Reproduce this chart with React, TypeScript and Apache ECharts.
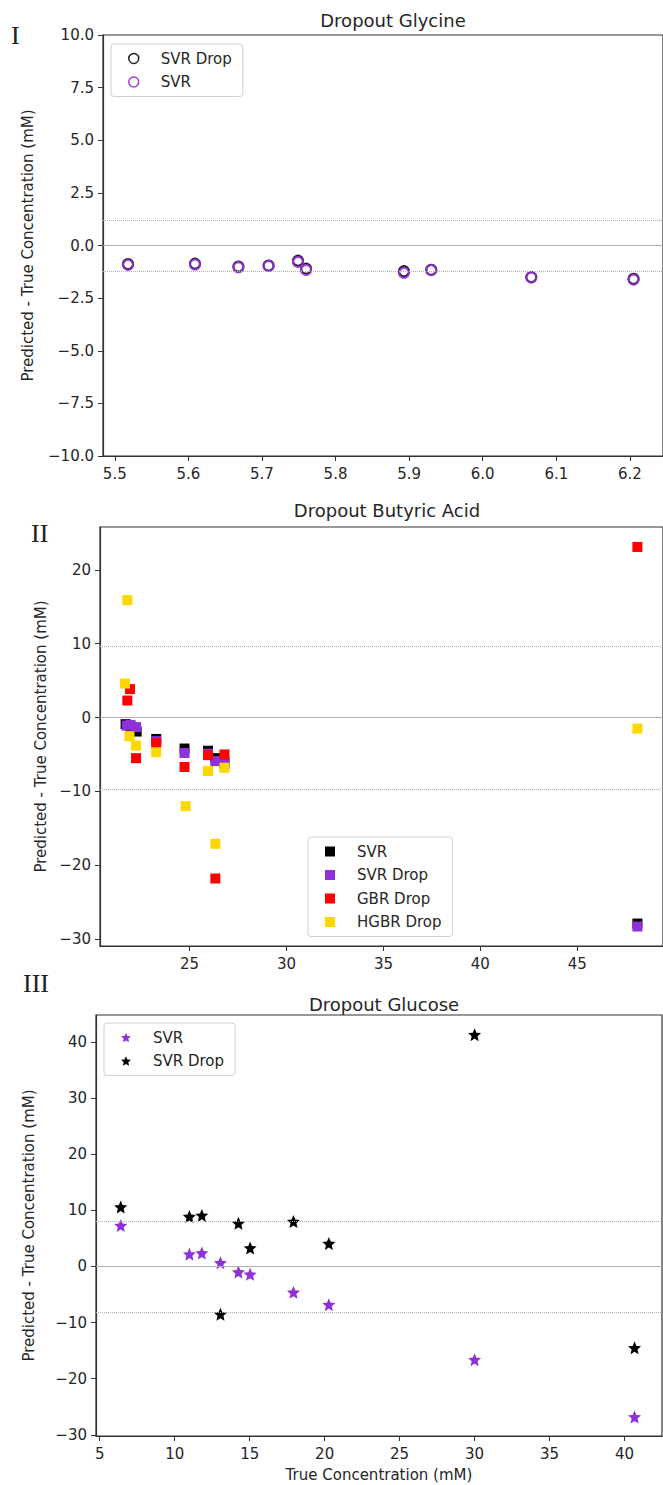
import React, { useEffect, useRef } from "react";
import * as echarts from "echarts";

// ---------- Panel I : Dropout Glycine ----------
const glyX = [5.518, 5.609, 5.668, 5.709, 5.749, 5.760, 5.893, 5.930, 6.066, 6.205];
const glySvrDrop = [-0.88, -0.86, -1.0, -0.95, -0.72, -1.1, -1.22, -1.15, -1.5, -1.58];
const glySvr = [-0.92, -0.9, -1.03, -0.97, -0.78, -1.16, -1.3, -1.17, -1.52, -1.62];
const glyXTicks = [5.5, 5.6, 5.7, 5.8, 5.9, 6.0, 6.1, 6.2];
const glyYTicks = [-10, -7.5, -5, -2.5, 0, 2.5, 5, 7.5, 10];
const glyLoa = [-1.2, 1.2];

// ---------- Panel II : Dropout Butyric Acid ----------
const butSvrX = [21.70, 21.95, 22.27, 23.28, 24.74, 25.95, 26.33, 26.8, 48.1];
const butSvrY = [-0.9, -1.2, -1.9, -2.9, -4.2, -4.5, -5.5, -6.1, -27.9];
const butSvrDropX = [21.76, 21.95, 22.24, 23.28, 24.74, 25.95, 26.33, 26.8, 48.1];
const butSvrDropY = [-1.1, -1.0, -1.3, -3.2, -4.8, -4.9, -5.9, -6.3, -28.3];
const butGbrX = [21.79, 21.93, 22.24, 23.28, 24.74, 25.95, 26.33, 26.8, 48.1];
const butGbrY = [2.3, 3.85, -5.5, -3.45, -6.7, -5.1, -21.8, -5.0, 23.1];
const butHgbrX = [21.67, 21.79, 21.9, 22.24, 23.28, 24.8, 25.95, 26.33, 26.8, 48.1];
const butHgbrY = [4.6, 15.9, -2.55, -3.8, -4.7, -12.0, -7.25, -17.1, -6.8, -1.5];
const butXTicks = [25, 30, 35, 40, 45];
const butYTicks = [-30, -20, -10, 0, 10, 20];
const butLoa = [-9.7, 9.7];

// ---------- Panel III : Dropout Glucose ----------
const glucX = [6.4, 10.98, 11.81, 13.05, 14.25, 15.03, 17.92, 20.28, 30.0, 40.67];
const glucSvr = [7.3, 2.2, 2.4, 0.65, -1.0, -1.4, -4.6, -6.8, -16.6, -26.8];
const glucSvrDrop = [10.6, 8.9, 9.1, -8.5, 7.7, 3.3, 8.0, 4.1, 41.3, -14.5];
const glucXTicks = [5, 10, 15, 20, 25, 30, 35, 40];
const glucYTicks = [-30, -20, -10, 0, 10, 20, 30, 40];
const glucLoa = [-8.1, 8.1];

const PURPLE = "#9030d8";
const FONT = "DejaVu Sans";
const TXT = "#262626";
const STAR =
  "path://M12,1 L15.1,8.3 L23,9 L17,14.2 L18.8,22 L12,17.9 L5.2,22 L7,14.2 L1,9 L8.9,8.3 Z";

const zip = (xs: number[], ys: number[]) => xs.map((x, i) => [x, ys[i]]);
const minus = (s: string) => s.replace("-", "\u2212");

function refLines(loa: number[]) {
  return {
    silent: true,
    symbol: "none",
    label: { show: false },
    data: [
      { yAxis: 0, lineStyle: { type: "solid", color: "#b0b0b0", width: 1 } },
      { yAxis: loa[0], lineStyle: { type: "dotted", color: "#b0b0b0", width: 1 } },
      { yAxis: loa[1], lineStyle: { type: "dotted", color: "#b0b0b0", width: 1 } },
    ],
  };
}

function xAxisCfg(idx: number, min: number, max: number, ticks: number[], fmt: (v: number) => string, name = "") {
  return {
    type: "value",
    gridIndex: idx,
    min,
    max,
    name,
    nameLocation: "middle",
    nameGap: 31,
    nameTextStyle: { fontFamily: FONT, fontSize: 15, color: TXT },
    axisLine: { show: true, onZero: false, lineStyle: { color: "#333", width: 1.2 } },
    axisTick: { show: true, inside: false, length: 5, customValues: ticks, lineStyle: { color: "#333" } },
    axisLabel: { customValues: ticks, formatter: (v: number) => minus(fmt(v)), fontFamily: FONT, fontSize: 15, color: TXT, margin: 10 },
    splitLine: { show: false },
  };
}

function yAxisCfg(idx: number, min: number, max: number, ticks: number[], fmt: (v: number) => string, nameGap: number) {
  return {
    type: "value",
    gridIndex: idx,
    min,
    max,
    name: "Predicted - True Concentration (mM)",
    nameLocation: "middle",
    nameGap,
    nameTextStyle: { fontFamily: FONT, fontSize: 15, color: TXT },
    axisLine: { show: true, onZero: false, lineStyle: { color: "#333", width: 1.2 } },
    axisTick: { show: true, inside: false, length: 5, customValues: ticks, lineStyle: { color: "#333" } },
    axisLabel: { customValues: ticks, formatter: (v: number) => minus(fmt(v)), fontFamily: FONT, fontSize: 15, color: TXT, margin: 9 },
    splitLine: { show: false },
  };
}

function legendCfg(left: number, top: number, names: string[], items: any[]) {
  return {
    left,
    top,
    orient: "vertical",
    data: names.map((n, i) => ({ name: n, ...items[i] })),
    formatter: (n: string) => n.slice(2),
    itemWidth: 10,
    itemHeight: 10,
    itemGap: 8.5,
    padding: [7, 11, 7, 17],
    borderColor: "#d0d0d0",
    borderWidth: 1,
    borderRadius: 3,
    textStyle: { fontFamily: FONT, fontSize: 15, color: TXT, padding: [0, 0, 0, 17] },
    selectedMode: false,
  };
}

const titleStyle = { fontFamily: FONT, fontSize: 18, fontWeight: "normal", color: TXT };

export default function App() {
  const ref = useRef<HTMLDivElement>(null);
  useEffect(() => {
    document.body.style.margin = "0";
    const chart = echarts.init(ref.current!, undefined, { renderer: "svg" });
    const option: any = {
      animation: false,
      backgroundColor: "#fff",
      title: [
        { text: "Dropout Glycine", left: 388, top: 6, textAlign: "center", textStyle: titleStyle },
        { text: "Dropout Butyric Acid", left: 382, top: 496, textAlign: "center", textStyle: titleStyle },
        { text: "Dropout Glucose", left: 379, top: 990, textAlign: "center", textStyle: titleStyle },
      ],
      graphic: [
        { type: "text", left: 11, top: 22, style: { text: "I", font: "26px 'Liberation Serif'", fill: "#222" } },
        { type: "text", left: 31, top: 520, style: { text: "II", font: "26px 'Liberation Serif'", fill: "#222" } },
        { type: "text", left: 23, top: 970, style: { text: "III", font: "26px 'Liberation Serif'", fill: "#222" } },
      ],
      grid: [
        { left: 103, right: -11, top: 35, height: 421, show: true, borderColor: "#333", borderWidth: 1.2, backgroundColor: "transparent" },
        { left: 100, right: -1, top: 527, height: 419, show: true, borderColor: "#333", borderWidth: 1.2, backgroundColor: "transparent" },
        { left: 96, right: 1, top: 1015, height: 421, show: true, borderColor: "#333", borderWidth: 1.2, backgroundColor: "transparent" },
      ],
      xAxis: [
        xAxisCfg(0, 5.484, 6.245, glyXTicks, (v) => v.toFixed(1)),
        xAxisCfg(1, 20.38, 49.42, butXTicks, (v) => String(v)),
        xAxisCfg(2, 4.75, 42.5, glucXTicks, (v) => String(v), "True Concentration (mM)"),
      ],
      yAxis: [
        yAxisCfg(0, -10, 10, glyYTicks, (v) => v.toFixed(1), 68),
        yAxisCfg(1, -30.94, 25.8, butYTicks, (v) => String(v), 52),
        yAxisCfg(2, -30.2, 44.8, glucYTicks, (v) => String(v), 60),
      ],
      legend: [
        legendCfg(111, 44, ["g:SVR Drop", "g:SVR"], [
          { icon: "circle", itemStyle: { color: "transparent", borderColor: "#222", borderWidth: 1.5 } },
          { icon: "circle", itemStyle: { color: "transparent", borderColor: PURPLE, borderWidth: 1.5 } },
        ]),
        legendCfg(308, 837, ["b:SVR", "b:SVR Drop", "b:GBR Drop", "b:HGBR Drop"], [
          { icon: "rect", itemStyle: { color: "#000" } },
          { icon: "rect", itemStyle: { color: PURPLE } },
          { icon: "rect", itemStyle: { color: "#ff0000" } },
          { icon: "rect", itemStyle: { color: "#ffd700" } },
        ]),
        legendCfg(104, 1023, ["u:SVR", "u:SVR Drop"], [
          { icon: STAR, itemStyle: { color: PURPLE } },
          { icon: STAR, itemStyle: { color: "#000" } },
        ]),
      ],
      series: [
        {
          name: "g:SVR Drop", type: "scatter", xAxisIndex: 0, yAxisIndex: 0,
          data: zip(glyX, glySvrDrop), symbol: "circle", symbolSize: 10,
          itemStyle: { color: "transparent", borderColor: "#222", borderWidth: 2, opacity: 1 },
          markLine: refLines(glyLoa),
        },
        {
          name: "g:SVR", type: "scatter", xAxisIndex: 0, yAxisIndex: 0,
          data: zip(glyX, glySvr), symbol: "circle", symbolSize: 10,
          itemStyle: { color: "transparent", borderColor: PURPLE, borderWidth: 2, opacity: 0.9 },
        },
        {
          name: "b:SVR", type: "scatter", xAxisIndex: 1, yAxisIndex: 1,
          data: zip(butSvrX, butSvrY), symbol: "rect", symbolSize: 10,
          itemStyle: { color: "#000", opacity: 1 },
          markLine: refLines(butLoa),
        },
        {
          name: "b:SVR Drop", type: "scatter", xAxisIndex: 1, yAxisIndex: 1,
          data: zip(butSvrDropX, butSvrDropY), symbol: "rect", symbolSize: 10,
          itemStyle: { color: PURPLE, opacity: 1 },
        },
        {
          name: "b:GBR Drop", type: "scatter", xAxisIndex: 1, yAxisIndex: 1,
          data: zip(butGbrX, butGbrY), symbol: "rect", symbolSize: 10,
          itemStyle: { color: "#ff0000", opacity: 1 },
        },
        {
          name: "b:HGBR Drop", type: "scatter", xAxisIndex: 1, yAxisIndex: 1,
          data: zip(butHgbrX, butHgbrY), symbol: "rect", symbolSize: 10,
          itemStyle: { color: "#ffd700", opacity: 1 },
        },
        {
          name: "u:SVR", type: "scatter", xAxisIndex: 2, yAxisIndex: 2,
          data: zip(glucX, glucSvr), symbol: STAR, symbolSize: 13,
          itemStyle: { color: PURPLE, opacity: 1 },
          markLine: refLines(glucLoa),
        },
        {
          name: "u:SVR Drop", type: "scatter", xAxisIndex: 2, yAxisIndex: 2,
          data: zip(glucX, glucSvrDrop), symbol: STAR, symbolSize: 13,
          itemStyle: { color: "#000", opacity: 1 },
        },
      ],
    };
    chart.setOption(option);
    return () => chart.dispose();
  }, []);
  return <div ref={ref} style={{ width: 663, height: 1485 }} />;
}
